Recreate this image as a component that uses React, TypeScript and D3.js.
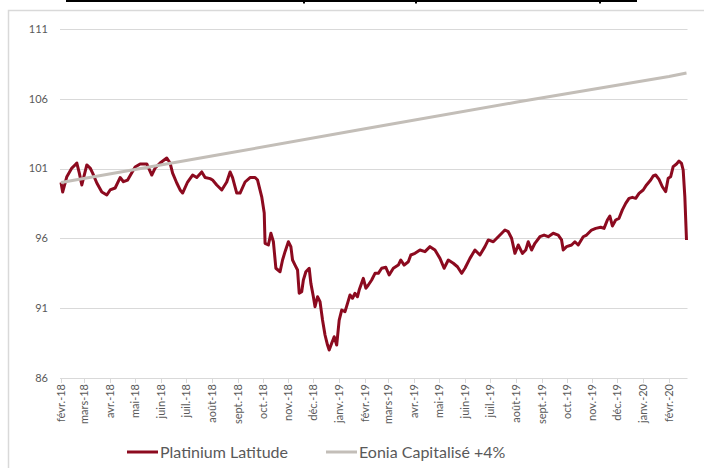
import React, { useEffect, useRef } from "react";
import * as d3 from "d3";

// ---- data ----
const platiniumDates = [
  "2018-02-01","2018-02-03","2018-02-08","2018-02-14","2018-02-18","2018-02-20","2018-02-23","2018-02-26",
  "2018-03-04","2018-03-08","2018-03-11","2018-03-16","2018-03-22","2018-03-28","2018-04-01","2018-04-07",
  "2018-04-13","2018-04-17","2018-04-22","2018-05-01","2018-05-07","2018-05-15","2018-05-21","2018-05-25",
  "2018-05-31","2018-06-08","2018-06-12","2018-06-15","2018-06-20","2018-06-24","2018-06-27","2018-07-03",
  "2018-07-09","2018-07-14","2018-07-20","2018-07-24","2018-07-30","2018-08-02","2018-08-07","2018-08-13",
  "2018-08-19","2018-08-23","2018-08-26","2018-08-31","2018-09-04","2018-09-10","2018-09-16","2018-09-22",
  "2018-09-25","2018-09-30","2018-10-03","2018-10-04","2018-10-08","2018-10-11","2018-10-14","2018-10-17",
  "2018-10-22","2018-10-25","2018-10-28","2018-11-01","2018-11-04","2018-11-06","2018-11-09","2018-11-12",
  "2018-11-14","2018-11-17","2018-11-19","2018-11-22","2018-11-26","2018-11-28","2018-12-01","2018-12-03",
  "2018-12-06","2018-12-09","2018-12-12","2018-12-15","2018-12-18","2018-12-20","2018-12-23","2018-12-26",
  "2018-12-29","2019-01-01","2019-01-04","2019-01-08","2019-01-11","2019-01-14","2019-01-17","2019-01-20",
  "2019-01-23","2019-01-25","2019-01-30","2019-02-02","2019-02-05","2019-02-09","2019-02-13","2019-02-17",
  "2019-02-21","2019-02-26","2019-03-02","2019-03-07","2019-03-13","2019-03-16","2019-03-20","2019-03-25",
  "2019-03-28","2019-04-02","2019-04-08","2019-04-14","2019-04-20","2019-04-26","2019-05-02","2019-05-07",
  "2019-05-12","2019-05-18","2019-05-23","2019-05-28","2019-06-01","2019-06-07","2019-06-13","2019-06-19",
  "2019-06-25","2019-06-29","2019-07-05","2019-07-11","2019-07-19","2019-07-23","2019-07-27","2019-07-31",
  "2019-08-04","2019-08-09","2019-08-13","2019-08-16","2019-08-20","2019-08-24","2019-08-30","2019-09-04",
  "2019-09-09","2019-09-15","2019-09-21","2019-09-25","2019-09-27","2019-10-01","2019-10-07","2019-10-11",
  "2019-10-15","2019-10-21","2019-10-25","2019-10-31","2019-11-05","2019-11-11","2019-11-15","2019-11-19",
  "2019-11-22","2019-11-25","2019-11-29","2019-12-03","2019-12-07","2019-12-11","2019-12-15","2019-12-19",
  "2019-12-23","2019-12-27","2020-01-01","2020-01-05","2020-01-10","2020-01-13","2020-01-16","2020-01-20",
  "2020-01-24","2020-01-28","2020-01-31","2020-02-03","2020-02-06","2020-02-10","2020-02-13","2020-02-16",
  "2020-02-18","2020-02-20","2020-02-22",
];
const platiniumValues = [
  100.0, 99.32, 100.42, 101.04, 101.26, 101.4, 100.68, 99.83,
  101.26, 101.04, 100.68, 99.97, 99.32, 99.11, 99.47, 99.61,
  100.36, 100.06, 100.18, 101.11, 101.33, 101.33, 100.54, 101.04,
  101.4, 101.76, 101.4, 100.68, 99.97, 99.47, 99.25, 100.04,
  100.54, 100.36, 100.76, 100.36, 100.28, 100.18, 99.83, 99.47,
  100.04, 100.76, 100.36, 99.25, 99.25, 100.04, 100.36, 100.36,
  100.18, 98.98, 97.82, 95.65, 95.53, 96.37, 95.76, 93.86,
  93.61, 94.45, 95.05, 95.76, 95.41, 94.45, 94.09, 93.74,
  92.07, 92.18, 93.02, 93.61, 93.86, 92.78, 91.82, 91.11,
  91.82, 91.47, 90.15, 89.08, 88.36, 88.0, 88.49, 88.96,
  88.36, 90.15, 90.87, 90.75, 91.35, 91.95, 91.71, 92.07,
  91.82, 92.3, 93.14, 92.43, 92.66, 93.02, 93.5, 93.5,
  93.86, 93.93, 93.38, 93.86, 94.09, 94.45, 94.09, 94.33,
  94.81, 94.93, 95.17, 95.05, 95.41, 95.17, 94.57, 93.86,
  94.45, 94.22, 93.97, 93.5, 93.86, 94.57, 95.17, 94.81,
  95.41, 95.89, 95.76, 96.12, 96.6, 96.48, 96.01, 94.93,
  95.53, 94.93, 95.17, 95.76, 95.17, 95.65, 96.12, 96.24,
  96.12, 96.37, 96.24, 95.89, 95.17, 95.41, 95.53, 95.76,
  95.53, 96.12, 96.24, 96.6, 96.72, 96.8, 96.72, 97.32,
  97.6, 96.89, 97.32, 97.44, 98.04, 98.51, 98.87, 98.94,
  98.87, 99.23, 99.47, 99.83, 100.18, 100.47, 100.54, 100.23,
  99.7, 99.35, 100.31, 100.42, 101.14, 101.33, 101.54, 101.38,
  100.9, 98.99, 95.89,
];
const eoniaDates = ["2018-02-01", "2018-08-01", "2019-02-01", "2019-08-01", "2020-02-01", "2020-02-22"];
const eoniaValues = [100.0, 101.9, 103.85, 105.75, 107.6, 107.85];
const yTickValues = [86, 91, 96, 101, 106, 111];
const monthLabels = [
  "févr.-18","mars-18","avr.-18","mai-18","juin-18","juil.-18","août-18","sept.-18","oct.-18","nov.-18","déc.-18","janv.-19",
  "févr.-19","mars-19","avr.-19","mai-19","juin-19","juil.-19","août-19","sept.-19","oct.-19","nov.-19","déc.-19","janv.-20","févr.-20",
];
const seriesNames = ["Platinium Latitude", "Eonia Capitalisé +4%"];
const seriesColors = ["#8c0a1f", "#c3beb8"];

const W = 704, H = 468;
const plot = { left: 61, right: 686.5, top: 29, bottom: 378 };
const FONT = "Lato, 'Open Sans', sans-serif";

export default function App() {
  const ref = useRef<SVGSVGElement>(null);

  useEffect(() => {
    const svg = d3.select(ref.current);
    svg.selectAll("*").remove();
    const parse = d3.timeParse("%Y-%m-%d");
    const pData = platiniumDates.map((d, i) => ({ date: parse(d)!, v: platiniumValues[i] }));
    const eData = eoniaDates.map((d, i) => ({ date: parse(d)!, v: eoniaValues[i] }));

    const x = d3.scaleTime()
      .domain([pData[0].date, pData[pData.length - 1].date])
      .range([plot.left, plot.right]);
    const y = d3.scaleLinear().domain([86, 111]).range([plot.bottom, plot.top]);

    // frame & cut-off title remnant
    svg.append("rect").attr("x", 8.5).attr("y", 10.5).attr("width", 720).attr("height", 480)
      .attr("fill", "white").attr("stroke", "#d9d9d9").attr("stroke-width", 1.5);
    svg.append("rect").attr("x", 66).attr("y", 0).attr("width", 571).attr("height", 2).attr("fill", "#000");
    [303, 415, 599].forEach((px) =>
      svg.append("rect").attr("x", px).attr("y", 0).attr("width", 2).attr("height", 3.5).attr("fill", "#000"));

    // gridlines
    const g = svg.append("g");
    g.selectAll("line.grid").data(yTickValues).join("line")
      .attr("x1", plot.left - 1).attr("x2", plot.right + 1)
      .attr("y1", (d) => Math.round(y(d)) + 0.5).attr("y2", (d) => Math.round(y(d)) + 0.5)
      .attr("stroke", "#d9d9d9").attr("stroke-width", 1);
    g.selectAll("text.ylab").data(yTickValues).join("text")
      .attr("x", 48).attr("y", (d) => y(d)).attr("dy", "0.35em")
      .attr("text-anchor", "end").attr("font-family", FONT).attr("font-size", 11)
      .attr("fill", "#595959").text((d) => String(d));

    // x ticks
    const months = d3.timeMonth.range(parse("2018-02-01")!, parse("2020-02-02")!);
    const xt = svg.append("g");
    xt.selectAll("line").data(months).join("line")
      .attr("x1", (d) => Math.round(x(d)) + 0.5).attr("x2", (d) => Math.round(x(d)) + 0.5)
      .attr("y1", plot.bottom).attr("y2", plot.bottom + 5)
      .attr("stroke", "#d9d9d9");
    xt.selectAll("text").data(months).join("text")
      .attr("transform", (d) => `translate(${x(d) + 4},${plot.bottom + 6}) rotate(-90)`)
      .attr("text-anchor", "end").attr("font-family", FONT).attr("font-size", 11)
      .attr("fill", "#595959").text((d, i) => monthLabels[i]);

    const line = d3.line<{ date: Date; v: number }>().x((d) => x(d.date)).y((d) => y(d.v));
    svg.append("path").datum(pData).attr("d", line).attr("fill", "none")
      .attr("stroke", seriesColors[0]).attr("stroke-width", 3).attr("stroke-linejoin", "round");
    svg.append("path").datum(eData).attr("d", line).attr("fill", "none")
      .attr("stroke", seriesColors[1]).attr("stroke-width", 3);

    // legend
    const legendX = [127, 326];
    seriesNames.forEach((name, i) => {
      svg.append("line").attr("x1", legendX[i]).attr("x2", legendX[i] + 31)
        .attr("y1", 452).attr("y2", 452).attr("stroke", seriesColors[i]).attr("stroke-width", 3);
      svg.append("text").attr("x", legendX[i] + 33).attr("y", 452).attr("dy", "0.35em")
        .attr("font-family", FONT).attr("font-size", 16).attr("fill", "#595959").text(name);
    });
  }, []);

  return (
    <svg ref={ref} width={W} height={H}
      style={{ position: "absolute", left: 0, top: 0, background: "white" }} />
  );
}
